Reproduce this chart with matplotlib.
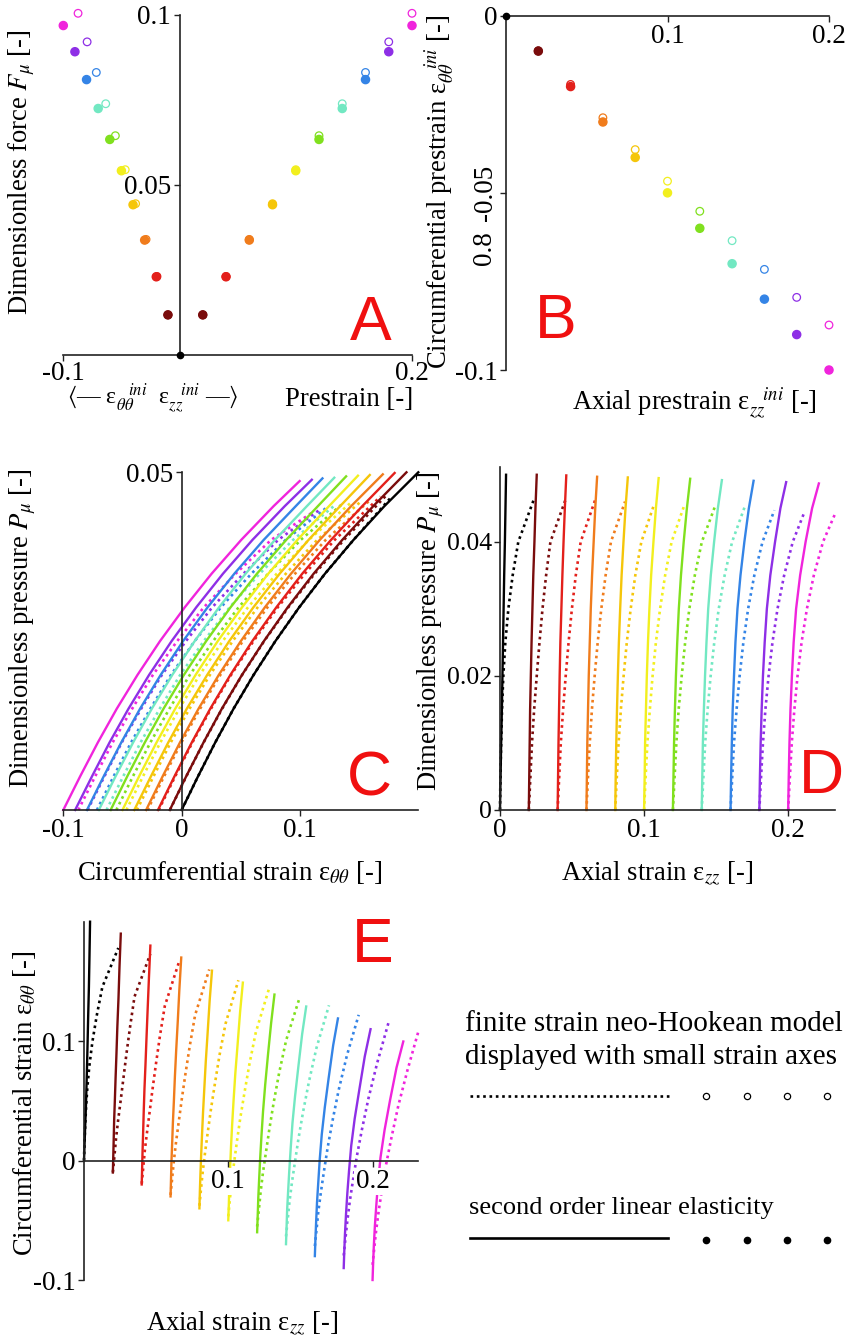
import matplotlib.pyplot as plt

plt.rcParams['font.family'] = ['Liberation Serif', 'DejaVu Serif']
plt.rcParams['mathtext.fontset'] = 'stix'
plt.rcParams['axes.unicode_minus'] = False

W, H = 846, 1340

# black = no prestrain, then one colour per prestrain step
colors = ['black', '#7a0c0c', '#e3201b', '#f07c1c', '#f5c60a', '#f2ef1e',
          '#80e01e', '#72e8c2', '#3484e6', '#8e2fe6', '#f024dc']

# --- prestrain / force (panels A, B) ---
axial_prestrain = [0.02, 0.04, 0.06, 0.08, 0.10, 0.12, 0.14, 0.16, 0.18, 0.20]
circ_prestrain_lin = [-0.010, -0.020, -0.030, -0.040, -0.050, -0.060, -0.070, -0.080, -0.090, -0.100]
circ_prestrain_nh = [-0.0099, -0.0194, -0.0288, -0.0378, -0.0467, -0.0552, -0.0635, -0.0716, -0.0795, -0.0873]
force_lin = [0.0118, 0.0230, 0.0338, 0.0442, 0.0542, 0.0634, 0.0725, 0.0810, 0.0892, 0.0969]
force_nh = [0.0118, 0.0231, 0.0340, 0.0445, 0.0545, 0.0645, 0.0739, 0.0831, 0.0921, 0.1005]

# --- inflation curves (panels C, D, E) ---
# linear model sampled at these pressures, then its end point
p_grid_lin = [0.0, 0.005, 0.01, 0.015, 0.02, 0.025, 0.03, 0.035, 0.04, 0.045]
p_end_lin = [0.0500, 0.0500, 0.0499, 0.0497, 0.0496, 0.0495, 0.0494, 0.0492, 0.0491, 0.0489, 0.0487]
# neo-Hookean model
p_grid_nh = [0.0, 0.005, 0.01, 0.015, 0.02, 0.025, 0.03, 0.035, 0.04]
p_end_nh = [0.0465, 0.0466, 0.0464, 0.0460, 0.0456, 0.0455, 0.0455, 0.0452, 0.0447, 0.0445, 0.0440]

eth_lin = [
    [0.000, 0.0139, 0.0284, 0.0439, 0.0608, 0.0792, 0.0993, 0.1212, 0.1453, 0.1714, 0.2000],
    [-0.010, 0.0039, 0.0185, 0.0340, 0.0510, 0.0695, 0.0896, 0.1116, 0.1358, 0.1620, 0.1900],
    [-0.020, -0.0060, 0.0086, 0.0242, 0.0412, 0.0597, 0.0800, 0.1020, 0.1263, 0.1527, 0.1800],
    [-0.030, -0.0160, -0.0014, 0.0143, 0.0314, 0.0500, 0.0703, 0.0925, 0.1168, 0.1433, 0.1700],
    [-0.040, -0.0259, -0.0113, 0.0044, 0.0216, 0.0402, 0.0606, 0.0829, 0.1073, 0.1340, 0.1590],
    [-0.050, -0.0359, -0.0212, -0.0054, 0.0118, 0.0305, 0.0510, 0.0733, 0.0979, 0.1246, 0.1490],
    [-0.060, -0.0459, -0.0311, -0.0153, 0.0019, 0.0207, 0.0413, 0.0637, 0.0884, 0.1152, 0.1390],
    [-0.070, -0.0558, -0.0410, -0.0252, -0.0079, 0.0110, 0.0316, 0.0541, 0.0789, 0.1059, 0.1290],
    [-0.080, -0.0658, -0.0510, -0.0351, -0.0177, 0.0012, 0.0219, 0.0446, 0.0694, 0.0965, 0.1190],
    [-0.090, -0.0757, -0.0609, -0.0449, -0.0275, -0.0085, 0.0123, 0.0350, 0.0599, 0.0872, 0.1100],
    [-0.100, -0.0857, -0.0708, -0.0548, -0.0373, -0.0183, 0.0026, 0.0254, 0.0504, 0.0778, 0.0997],
]
ezz_lin = [
    [0.0000, 0.0004, 0.0008, 0.0013, 0.0017, 0.0021, 0.0025, 0.0029, 0.0034, 0.0038, 0.0042],
    [0.0200, 0.0203, 0.0206, 0.0209, 0.0214, 0.0219, 0.0225, 0.0231, 0.0239, 0.0246, 0.0255],
    [0.0400, 0.0403, 0.0406, 0.0410, 0.0414, 0.0419, 0.0426, 0.0433, 0.0441, 0.0450, 0.0460],
    [0.0600, 0.0603, 0.0606, 0.0611, 0.0616, 0.0623, 0.0630, 0.0639, 0.0650, 0.0661, 0.0674],
    [0.0800, 0.0803, 0.0807, 0.0812, 0.0818, 0.0825, 0.0834, 0.0844, 0.0857, 0.0871, 0.0887],
    [0.1000, 0.1004, 0.1007, 0.1013, 0.1019, 0.1027, 0.1037, 0.1049, 0.1065, 0.1082, 0.1101],
    [0.1200, 0.1204, 0.1208, 0.1214, 0.1221, 0.1230, 0.1241, 0.1256, 0.1275, 0.1297, 0.1320],
    [0.1400, 0.1404, 0.1408, 0.1415, 0.1423, 0.1433, 0.1445, 0.1463, 0.1486, 0.1512, 0.1540],
    [0.1600, 0.1604, 0.1609, 0.1615, 0.1624, 0.1634, 0.1648, 0.1669, 0.1696, 0.1727, 0.1760],
    [0.1800, 0.1804, 0.1809, 0.1816, 0.1825, 0.1837, 0.1852, 0.1876, 0.1909, 0.1946, 0.1986],
    [0.2000, 0.2004, 0.2009, 0.2016, 0.2026, 0.2038, 0.2055, 0.2083, 0.2121, 0.2166, 0.2213],
]
eth_nh = [
    [0.0000, 0.0139, 0.0284, 0.0439, 0.0608, 0.0792, 0.0993, 0.1212, 0.1453, 0.178],
    [-0.0099, 0.0040, 0.0186, 0.0342, 0.0511, 0.0697, 0.0901, 0.1125, 0.1372, 0.173],
    [-0.0194, -0.0054, 0.0091, 0.0248, 0.0418, 0.0607, 0.0812, 0.1042, 0.1294, 0.168],
    [-0.0288, -0.0148, -0.0002, 0.0156, 0.0327, 0.0517, 0.0725, 0.0959, 0.1218, 0.160],
    [-0.0378, -0.0237, -0.0092, 0.0067, 0.0239, 0.0431, 0.0642, 0.0881, 0.1146, 0.151],
    [-0.0467, -0.0326, -0.0180, -0.0020, 0.0152, 0.0347, 0.0560, 0.0804, 0.1075, 0.143],
    [-0.0552, -0.0411, -0.0264, -0.0103, 0.0069, 0.0266, 0.0481, 0.0731, 0.1007, 0.137],
    [-0.0635, -0.0493, -0.0347, -0.0185, -0.0012, 0.0187, 0.0405, 0.0660, 0.0942, 0.130],
    [-0.0716, -0.0574, -0.0427, -0.0264, -0.0090, 0.0110, 0.0331, 0.0590, 0.0879, 0.122],
    [-0.0795, -0.0652, -0.0506, -0.0342, -0.0167, 0.0036, 0.0258, 0.0523, 0.0817, 0.117],
    [-0.0873, -0.0730, -0.0583, -0.0418, -0.0243, -0.0038, 0.0187, 0.0457, 0.0757, 0.110],
]
ezz_nh = [
    [0.0000, 0.0003, 0.0008, 0.0014, 0.0023, 0.0037, 0.0058, 0.0088, 0.0127, 0.0238],
    [0.0200, 0.0211, 0.0222, 0.0237, 0.0255, 0.0274, 0.0295, 0.0320, 0.0350, 0.0460],
    [0.0400, 0.0411, 0.0422, 0.0438, 0.0456, 0.0476, 0.0499, 0.0526, 0.0560, 0.0663],
    [0.0600, 0.0611, 0.0623, 0.0638, 0.0657, 0.0678, 0.0703, 0.0733, 0.0770, 0.0868],
    [0.0800, 0.0811, 0.0823, 0.0839, 0.0858, 0.0880, 0.0907, 0.0939, 0.0981, 0.1070],
    [0.1000, 0.1011, 0.1023, 0.1040, 0.1059, 0.1082, 0.1111, 0.1146, 0.1191, 0.1280],
    [0.1200, 0.1212, 0.1224, 0.1240, 0.1261, 0.1285, 0.1314, 0.1352, 0.1401, 0.1496],
    [0.1400, 0.1412, 0.1424, 0.1441, 0.1462, 0.1487, 0.1518, 0.1559, 0.1611, 0.1698],
    [0.1600, 0.1612, 0.1624, 0.1642, 0.1663, 0.1689, 0.1722, 0.1765, 0.1822, 0.1904],
    [0.1800, 0.1812, 0.1825, 0.1842, 0.1864, 0.1891, 0.1926, 0.1972, 0.2032, 0.2114],
    [0.2000, 0.2012, 0.2025, 0.2043, 0.2065, 0.2093, 0.2130, 0.2178, 0.2242, 0.2322],
]

TICK_FS = 19.5
LAB_FS = 19.2
LETTER_FS = 45
DOT = (0, (1, 1.4))

fig = plt.figure(figsize=(W / 100, H / 100), dpi=100)


def px_axes(l, t, r, b):
    return fig.add_axes([l / W, 1 - b / H, (r - l) / W, (b - t) / H])


def txt(x, y, s, **kw):
    kw.setdefault('fontsize', LAB_FS)
    return fig.text(x / W, 1 - y / H, s, **kw)


def letter(x, y, s):
    fig.text(x / W, 1 - y / H, s, color='#f01010', fontsize=LETTER_FS,
             family=['Liberation Sans', 'DejaVu Sans'], ha='center', va='baseline')


def style(ax):
    ax.patch.set_visible(False)
    for s in ['top', 'right']:
        ax.spines[s].set_visible(False)
    for s in ['left', 'bottom']:
        ax.spines[s].set_position(('data', 0))
        ax.spines[s].set_linewidth(1.2)
        ax.spines[s].set_color('#222222')
    ax.tick_params(direction='out', length=4, width=1, labelsize=TICK_FS, pad=2,
                   color='#222222')
    ax.set_axisbelow(False)


def curves(ax, xs_lin, ys_lin, xs_nh, ys_nh):
    for k in range(len(colors)):
        ax.plot(xs_nh[k], ys_nh[k], color=colors[k], ls=DOT, lw=1.9, clip_on=False, zorder=2)
    for k in range(len(colors)):
        ax.plot(xs_lin[k], ys_lin[k], color=colors[k], lw=1.7, clip_on=False, zorder=2.1)


p_lin = [p_grid_lin + [p] for p in p_end_lin]
p_nh = [p_grid_nh + [p] for p in p_end_nh]
mcol = colors[1:]

# ---------------- A ----------------
axA = px_axes(63.3, 15, 412, 355)
style(axA)
axA.set_xlim(-0.1, 0.2)
axA.set_ylim(0, 0.1)
for xs in [circ_prestrain_nh, axial_prestrain]:
    axA.scatter(xs, force_nh, s=30, facecolors='white', edgecolors=mcol, linewidths=0.9,
                clip_on=False, zorder=3)
axA.scatter(circ_prestrain_lin, force_lin, s=34, c=mcol, clip_on=False, zorder=4)
axA.scatter(axial_prestrain, force_lin, s=34, c=mcol, clip_on=False, zorder=4)
axA.plot([0], [0], 'o', color='black', ms=4.5, clip_on=False, zorder=5)
axA.set_xticks([-0.1, 0.2], ['-0.1', '0.2'])
axA.set_yticks([0.05, 0.1], ['0.05', '0.1'])
axA.tick_params(axis='x', pad=0)
txt(22, 172, r'Dimensionless force $F_{\mu}$ [-]', rotation=90, ha='center', va='center')
txt(413, 400, 'Prestrain [-]', ha='right', va='center')
txt(153, 399, r'$\langle$— ε$_{\theta\theta}^{\ \ \ ini}$  ε$_{zz}^{\ \ \ ini}$ —$\rangle$',
    ha='center', va='center', fontsize=17)
letter(371, 340, 'A')

# ---------------- B ----------------
axB = px_axes(506, 15.7, 829, 370)
style(axB)
axB.set_xlim(0, 0.2)
axB.set_ylim(-0.1, 0)
axB.scatter(axial_prestrain, circ_prestrain_nh, s=30, facecolors='white', edgecolors=mcol,
            linewidths=0.9, clip_on=False, zorder=3)
axB.scatter(axial_prestrain, circ_prestrain_lin, s=34, c=mcol, clip_on=False, zorder=4)
axB.plot([0], [0], 'o', color='black', ms=4.5, clip_on=False, zorder=5)
axB.set_xticks([0.1, 0.2], ['0.1', '0.2'])
axB.set_yticks([0, -0.05, -0.1], ['0', '-0.05', '-0.1'])
yl = axB.get_yticklabels()
yl[1].set_rotation(90)
yl[1].set_va('center')
txt(484, 248, '0.8', rotation=90, ha='center', va='center', fontsize=TICK_FS)
txt(440, 192, r'Circumferential prestrain ε$_{\theta\theta}^{\ \ \ ini}$ [-]', rotation=90,
    ha='center', va='center')
txt(694, 403, r'Axial prestrain ε$_{zz}^{\ \ \ ini}$ [-]', ha='center', va='center')
letter(556, 338, 'B')

# ---------------- C ----------------
axC = px_axes(63.3, 472.3, 418.3, 810)
style(axC)
axC.set_xlim(-0.1, 0.2)
axC.set_ylim(0, 0.05)
curves(axC, eth_lin, p_lin, eth_nh, p_nh)
axC.set_xticks([-0.1, 0, 0.1], ['-0.1', '0', '0.1'])
axC.set_yticks([0.05], ['0.05'])
txt(23, 628, r'Dimensionless pressure $P_{\mu}$ [-]', rotation=90, ha='center', va='center')
txt(230, 873, r'Circumferential strain ε$_{\theta\theta}$ [-]', ha='center', va='center')
letter(369, 795, 'C')

# ---------------- D ----------------
axD = px_axes(500, 466.7, 835, 810)
style(axD)
axD.set_xlim(0, 0.2325)
axD.set_ylim(0, 0.0512)
curves(axD, ezz_lin, p_lin, ezz_nh, p_nh)
axD.set_xticks([0, 0.1, 0.2], ['0', '0.1', '0.2'])
axD.set_yticks([0, 0.02, 0.04], ['0', '0.02', '0.04'])
axD.tick_params(axis='y', labelsize=18.5, pad=1.5)
txt(431, 631, r'Dimensionless pressure $P_{\mu}$ [-]', rotation=90, ha='center', va='center',
    zorder=0)
txt(657, 873, r'Axial strain ε$_{zz}$ [-]', ha='center', va='center')
letter(821, 793, 'D')

# ---------------- E ----------------
axE = px_axes(84, 921.7, 418.3, 1280)
style(axE)
axE.set_xlim(0, 0.2317)
axE.set_ylim(-0.1, 0.2)
curves(axE, ezz_lin, eth_lin, ezz_nh, eth_nh)
axE.set_xticks([0.1, 0.2], ['0.1', '0.2'])
axE.set_yticks([-0.1, 0, 0.1], ['-0.1', '0', '0.1'])
for lab in axE.get_xticklabels():
    lab.set_bbox(dict(facecolor='white', edgecolor='none', pad=1))
txt(25, 1103, r'Circumferential strain ε$_{\theta\theta}$ [-]', rotation=90, ha='center', va='center')
txt(242, 1323, r'Axial strain ε$_{zz}$ [-]', ha='center', va='center')
letter(373, 962, 'E')

# ---------------- legend ----------------
lax = px_axes(460, 1000, 846, 1260)
lax.axis('off')
lax.set_xlim(460, 846)
lax.set_ylim(1260, 1000)
lax.text(465, 1024, 'finite strain neo-Hookean model', fontsize=21, va='center', ha='left')
lax.text(465, 1057, 'displayed with small strain axes', fontsize=21, va='center', ha='left')
lax.plot([470, 670], [1096, 1096], color='black', ls=DOT, lw=1.9)
lax.plot([706, 747, 787, 827], [1096] * 4, 'o', mfc='white', mec='black', mew=0.9, ms=4.5)
lax.text(469, 1208, 'second order linear elasticity', fontsize=19, va='center', ha='left')
lax.plot([470, 668], [1238, 1238], color='black', lw=1.9)
lax.plot([706, 747, 787, 827], [1240] * 4, 'o', color='black', ms=4.5)

fig.savefig('out.png', dpi=100)
